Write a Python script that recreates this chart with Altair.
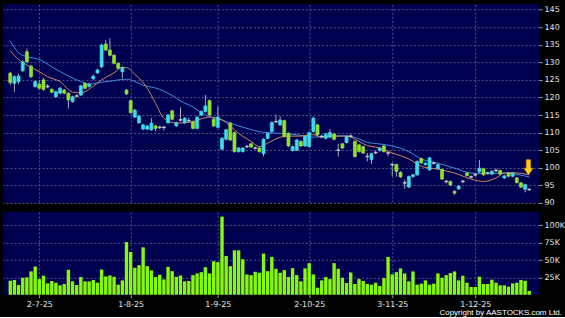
import altair as alt
import pandas as pd

# ---------------- data ----------------
opens = [126.9, 124.0, 124.5, 127.6, 133.0, 128.9, 123.1, 123.8, 125.0, 123.2,
         122.3, 120.2, 121.2, 122.1, 121.2, 118.8, 120.3, 120.7, 124.0, 123.1,
         125.3, 127.0, 128.7, 135.2, 133.5, 132.0, 129.7, 127.3, 122.1, 119.1,
         114.4, 112.8, 111.0, 111.0, 110.8, 111.9, 111.6, 111.4, 112.8, 116.2,
         111.9, 113.5, 112.8, 113.3, 113.1, 111.2, 115.0, 116.0, 119.1, 113.8,
         111.5, 105.3, 108.1, 112.7, 110.0, 104.6, 104.6, 105.9, 106.8, 105.7,
         105.6, 104.0, 108.4, 110.3, 113.0, 112.2, 113.4, 109.8, 104.9, 105.0,
         107.5, 106.2, 106.0, 110.3, 112.2, 109.0, 108.4, 108.7, 109.6, 105.1,
         106.8, 107.2, 109.1, 107.5, 106.5, 106.0, 103.3, 102.3, 104.2, 104.9,
         106.2, 104.3, 101.0, 100.9, 98.7, 95.8, 94.5, 97.5, 98.0, 102.6,
         100.9, 99.4, 101.4, 99.8, 99.5, 96.2, 96.1, 93.3, 94.0, 96.0,
         98.5, 97.5, 97.9, 98.8, 99.7, 98.6, 98.2, 99.3, 99.2, 97.1,
         98.5, 97.6, 97.1, 95.7, 93.9, 93.9]
closes = [124.2, 125.9, 126.1, 130.1, 130.1, 125.9, 124.5, 122.6, 122.3, 123.0,
          121.5, 121.6, 122.6, 121.2, 119.3, 120.2, 120.5, 123.3, 122.6, 123.8,
          126.0, 127.8, 134.9, 133.5, 132.0, 129.7, 128.3, 128.5, 121.0, 115.7,
          116.4, 114.7, 112.2, 111.9, 112.7, 111.2, 111.4, 111.6, 115.0, 113.8,
          112.8, 113.7, 114.1, 113.5, 111.2, 114.4, 116.0, 117.6, 115.0, 111.9,
          114.4, 108.4, 110.8, 107.9, 104.6, 105.6, 105.6, 106.1, 105.9, 105.5,
          104.6, 108.1, 109.8, 112.9, 113.2, 113.6, 108.9, 106.2, 106.0, 107.9,
          106.2, 108.9, 110.0, 114.1, 109.4, 108.8, 109.6, 110.0, 108.1, 104.9,
          105.6, 108.9, 108.9, 103.2, 104.6, 104.2, 103.1, 104.0, 104.4, 105.6,
          104.6, 104.1, 100.8, 99.0, 97.4, 95.6, 97.5, 98.0, 101.8, 101.4,
          101.3, 102.8, 101.2, 100.9, 96.8, 96.0, 95.1, 92.8, 94.8, 96.2,
          97.8, 97.3, 98.1, 99.9, 98.0, 98.4, 99.0, 99.1, 98.2, 97.7,
          97.6, 98.5, 95.8, 94.5, 95.2, 93.7]
highs = [127.3, 126.3, 126.8, 130.6, 133.9, 129.3, 124.9, 124.9, 125.6, 123.8,
         122.6, 122.0, 123.0, 122.4, 121.5, 120.5, 120.9, 123.6, 124.4, 124.2,
         126.5, 128.2, 135.3, 136.3, 136.8, 132.3, 130.0, 128.8, 122.4, 119.4,
         116.8, 115.0, 112.5, 112.2, 114.1, 112.2, 112.0, 111.9, 115.3, 116.5,
         113.1, 117.2, 114.4, 114.2, 113.4, 114.7, 116.3, 120.7, 119.4, 114.1,
         117.4, 108.7, 111.1, 113.0, 110.3, 105.9, 105.9, 106.5, 107.1, 106.0,
         105.9, 108.4, 110.1, 113.2, 115.1, 114.6, 113.7, 110.1, 106.3, 108.2,
         107.8, 109.2, 110.3, 114.6, 112.5, 109.4, 109.9, 111.0, 109.9, 106.8,
         107.1, 109.2, 109.5, 107.8, 106.8, 106.3, 104.2, 104.3, 104.8, 105.9,
         106.5, 104.6, 101.4, 101.2, 99.0, 96.6, 97.8, 98.3, 102.1, 102.9,
         101.6, 103.1, 101.7, 101.2, 99.8, 96.6, 96.4, 93.6, 95.1, 96.6,
         98.8, 97.8, 98.5, 102.2, 100.0, 98.9, 99.3, 99.8, 99.5, 98.0,
         98.8, 98.8, 97.4, 96.0, 95.5, 94.2]
lows = [123.5, 121.6, 123.8, 127.2, 129.8, 125.5, 122.8, 122.3, 121.9, 122.6,
        121.2, 119.9, 120.9, 120.9, 116.9, 118.5, 120.0, 120.4, 122.3, 122.8,
        125.0, 126.7, 128.4, 133.2, 131.7, 129.4, 128.0, 125.4, 120.7, 115.4,
        114.1, 112.5, 110.7, 110.7, 110.5, 110.4, 111.0, 110.6, 112.5, 113.5,
        111.6, 113.2, 112.5, 113.0, 110.9, 110.9, 114.7, 115.7, 114.7, 111.6,
        111.2, 105.0, 107.8, 107.6, 104.3, 104.3, 104.3, 105.6, 105.6, 105.2,
        104.3, 103.2, 108.1, 110.0, 112.7, 111.9, 108.6, 105.9, 104.6, 104.7,
        105.9, 105.9, 105.7, 110.0, 109.1, 108.4, 108.1, 108.4, 107.8, 103.2,
        105.3, 106.9, 108.6, 102.9, 104.3, 103.9, 101.8, 101.1, 103.9, 104.6,
        104.3, 103.3, 97.5, 97.5, 97.1, 94.0, 94.2, 97.2, 97.7, 101.1,
        100.6, 99.1, 100.9, 99.5, 96.5, 95.5, 94.8, 92.3, 93.7, 95.6,
        97.5, 97.0, 97.6, 98.5, 97.7, 98.1, 97.9, 98.8, 97.9, 96.8,
        97.3, 97.3, 95.5, 94.2, 93.0, 93.4]
volumes_k = [20.2, 21.2, 14.0, 24.5, 25.0, 33.6, 40.7, 22.6, 27.4, 16.4,
             19.8, 17.4, 13.6, 15.5, 36.0, 19.3, 14.0, 25.5, 19.3, 19.3,
             21.2, 17.4, 36.4, 26.4, 27.8, 25.9, 14.5, 20.7, 75.9, 61.6,
             38.8, 42.6, 68.3, 41.2, 35.0, 25.5, 28.8, 22.1, 40.2, 34.0,
             25.9, 27.8, 19.3, 19.8, 28.3, 30.7, 32.6, 39.7, 30.7, 48.3,
             46.9, 112.6, 55.9, 41.2, 64.0, 64.0, 51.2, 29.3, 28.3, 33.1,
             31.7, 59.3, 34.0, 54.5, 37.4, 31.7, 35.5, 25.5, 38.3, 28.3,
             19.3, 37.9, 45.5, 29.3, 10.2, 20.7, 25.5, 22.6, 45.5, 37.4,
             24.5, 16.9, 32.1, 15.5, 22.6, 19.8, 15.5, 14.5, 17.4, 12.6,
             24.0, 54.5, 29.3, 32.6, 37.9, 30.7, 19.3, 33.6, 14.5, 16.0,
             20.7, 14.5, 16.0, 30.7, 24.5, 28.3, 31.2, 33.6, 20.7, 27.4,
             17.4, 11.2, 11.2, 26.0, 15.5, 15.5, 21.7, 17.4, 13.6, 13.6,
             11.7, 16.4, 17.4, 21.2, 20.2, 5.5]

ma_short_idx = [0, 2, 4, 7, 9, 12, 15, 17, 20, 22, 25, 27, 28, 30, 33, 35, 37, 40,
                44, 46, 48, 51, 53, 55, 58, 60, 62, 65, 67, 70, 73, 75, 78, 81, 84,
                86, 88, 92, 96, 99, 103, 107, 111, 114, 117, 119, 121, 125]
ma_short_val = [133.3, 130.8, 129.2, 127.3, 125.9, 124.5, 121.5, 121.3, 123.2, 125.0,
                127.0, 128.6, 128.5, 126.6, 122.6, 118.3, 114.1, 112.7,
                113.1, 113.9, 114.4, 113.6, 111.9, 109.8, 107.5, 106.0, 107.0, 108.7,
                109.0, 109.0, 109.4, 108.7, 109.0, 109.0, 107.5,
                106.3, 105.9, 104.2, 102.5, 100.4, 99.6, 98.5, 96.8, 96.1, 97.1,
                98.5, 98.6, 98.0]
ma_long_idx = [0, 2, 4, 7, 10, 14, 17, 19, 22, 25, 28, 29, 32, 36, 40, 41, 44, 46,
               48, 51, 53, 57, 61, 65, 69, 73, 77, 81, 84, 86, 88, 92, 96, 99, 103,
               107, 111, 115, 119, 123, 125]
ma_long_val = [136.1, 132.7, 131.6, 130.8, 128.7, 126.1, 124.5, 123.8, 124.3, 124.8,
               125.2, 125.0, 123.5, 122.3, 119.8, 119.0, 117.3, 115.7,
               114.5, 113.6, 112.7, 111.2, 110.1, 109.8, 109.4, 108.7, 109.0, 109.1,
               108.2, 107.2, 106.9, 106.2, 104.6, 102.5, 101.3,
               99.9, 98.5, 98.3, 98.5, 97.9, 97.4]

tick_idx = [7, 29, 50, 72, 92, 112]
tick_labels = ["2-7-25", "1-8-25", "1-9-25", "2-10-25", "3-11-25", "1-12-25"]
price_ticks = [90, 95, 100, 105, 110, 115, 120, 125, 130, 135, 140, 145]
volume_ticks = [25000, 50000, 75000, 100000]
arrow_idx = [124.8]
arrow_price = [100.1]
copyright_text = ["Copyright by AASTOCKS.com Ltd."]

# ---------------- tables ----------------
n = len(opens)
rows = []
for i in range(n):
    o, c = opens[i], closes[i]
    if abs(c - o) < 0.25:
        kind = "doji"
    elif c > o:
        kind = "up"
    else:
        kind = "down"
    rows.append(dict(idx=i, open=o, close=c, high=highs[i], low=lows[i],
                     vol=volumes_k[i] * 1000, kind=kind))
df = pd.DataFrame(rows)
ma_s = pd.DataFrame({"idx": ma_short_idx, "ma": ma_short_val})
ma_l = pd.DataFrame({"idx": ma_long_idx, "ma": ma_long_val})
arrow_df = pd.DataFrame({"idx": arrow_idx, "price": arrow_price})
copy_df = pd.DataFrame({"t": copyright_text})

label_expr = " : ".join(
    f"datum.value == {v} ? '{t}'" for v, t in zip(tick_idx, tick_labels)
) + " : ''"

W = 537
H_TOP = 199
H_BOT = 83
FONT = "DejaVu Sans"
LBL = "#e4e4e4"
GRID = "#55558a"
FS = 8

xscale = alt.Scale(domain=[-0.55, 126.16], nice=False, zero=False)
x_top_axis = alt.Axis(values=tick_idx, labels=False, ticks=False, domain=False,
                      grid=True, gridColor=GRID, gridDash=[2, 2], title=None)
x_bot_axis = alt.Axis(values=tick_idx, labelExpr=label_expr, ticks=True, tickSize=3,
                      tickColor="#9a9a9a", domain=False, grid=True, gridColor=GRID,
                      gridDash=[2, 2], title=None, labelFont=FONT, labelFontSize=FS,
                      labelColor=LBL, labelPadding=3, labelOverlap=False)

yscale = alt.Scale(domain=[90, 146.5], nice=False, zero=False)
y_axis = alt.Axis(orient="right", values=price_ticks, tickSize=3, tickColor="#b0b0b0",
                  domain=False, grid=True, gridColor=GRID, gridDash=[2, 2], title=None,
                  labelFont=FONT, labelFontSize=FS, labelColor=LBL, labelPadding=2,
                  labelOverlap=False, labelFlush=False)

color_scale = alt.Scale(domain=["up", "down", "doji"],
                        range=["#40dbe8", "#93e033", "#cfcfcf"])

base = alt.Chart(df)
wicks = base.mark_rule(color="#a9a9bb", strokeWidth=1).encode(
    x=alt.X("idx:Q", scale=xscale, axis=x_top_axis),
    y=alt.Y("low:Q", scale=yscale, axis=y_axis),
    y2="high:Q",
)
bodies = base.mark_bar(size=3, strokeWidth=0.7).encode(
    x=alt.X("idx:Q", scale=xscale, axis=x_top_axis),
    y=alt.Y("open:Q", scale=yscale, axis=y_axis),
    y2="close:Q",
    color=alt.Color("kind:N", scale=color_scale, legend=None),
    stroke=alt.Color("kind:N", scale=color_scale, legend=None),
)
line_long = alt.Chart(ma_l).mark_line(color="#3c8fdc", strokeWidth=1,
                                      interpolate="monotone").encode(
    x=alt.X("idx:Q", scale=xscale, axis=x_top_axis),
    y=alt.Y("ma:Q", scale=yscale, axis=y_axis))
line_short = alt.Chart(ma_s).mark_line(color="#cf8a5a", strokeWidth=1,
                                       interpolate="monotone").encode(
    x=alt.X("idx:Q", scale=xscale, axis=x_top_axis),
    y=alt.Y("ma:Q", scale=yscale, axis=y_axis))
arrow = alt.Chart(arrow_df).mark_point(
    shape="M-0.28,-1 L0.28,-1 L0.28,0.1 L0.6,0.1 L0,1 L-0.6,0.1 L-0.28,0.1 Z",
    size=230, filled=True, fill="#ffd21f", stroke="#e08a00", strokeWidth=0.8,
    opacity=1,
).encode(x=alt.X("idx:Q", scale=xscale, axis=x_top_axis),
         y=alt.Y("price:Q", scale=yscale, axis=y_axis))

top = alt.layer(wicks, line_long, line_short, bodies, arrow).properties(
    width=W, height=H_TOP)

vscale = alt.Scale(domain=[0, 119300], nice=False, zero=True)
v_axis = alt.Axis(orient="right", values=volume_ticks,
                  labelExpr="format(datum.value / 1000, 'd') + 'K'",
                  tickSize=3, tickColor="#b0b0b0", domain=False, grid=True,
                  gridColor=GRID, gridDash=[2, 2], title=None, labelFont=FONT,
                  labelFontSize=FS, labelColor=LBL, labelPadding=2, labelOverlap=False)
vol = alt.Chart(df).mark_bar(size=3.4, color="#86f80c").encode(
    x=alt.X("idx:Q", scale=xscale, axis=x_bot_axis),
    y=alt.Y("vol:Q", scale=vscale, axis=v_axis),
)
copyright_mark = alt.Chart(copy_df).mark_text(
    align="right", baseline="middle", font="Liberation Sans", fontSize=8,
    color="#ffffff",
).encode(text="t:N", x=alt.value(W + 23), y=alt.value(H_BOT + 18))

bottom = alt.layer(vol, copyright_mark).properties(width=W, height=H_BOT)

chart = alt.vconcat(top, bottom, spacing=9, bounds="flush").properties(
    background="#000000",
    padding={"left": 3, "top": 4, "right": 0, "bottom": 0},
).configure_view(
    fill="#000050", stroke=None
).configure_axis(
    gridOpacity=1
)

chart.save("out.html", embed_options={"renderer": "svg", "actions": False})
